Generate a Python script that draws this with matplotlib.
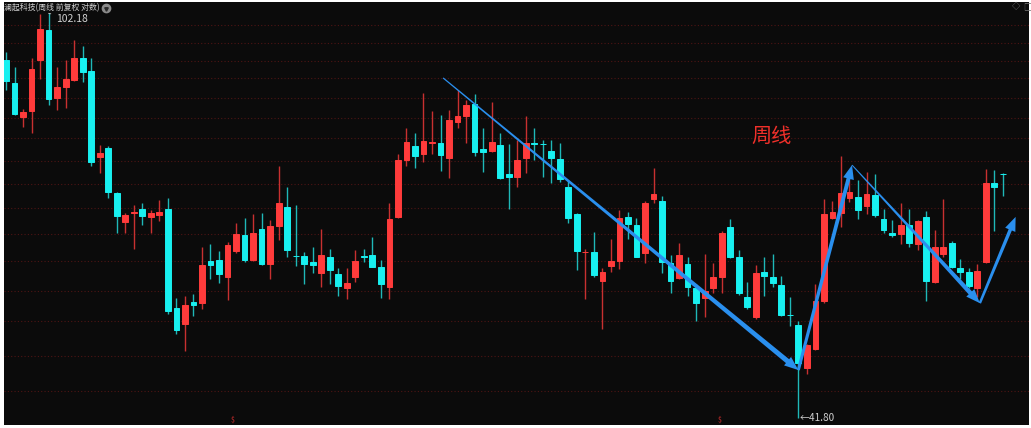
import numpy as np
import matplotlib
matplotlib.use("Agg")
import matplotlib.pyplot as plt
from matplotlib.patches import Polygon
from matplotlib.transforms import IdentityTransform

plt.rcParams['font.family'] = ['Noto Sans CJK SC', 'DejaVu Sans']

# weekly OHLC (log price axis)
opens = [92.17, 87.67, 81.33, 82.36, 92.17, 98.48, 84.70, 86.90, 88.19, 92.64,
         89.96, 74.41, 75.96, 68.78, 64.52, 65.81, 66.30, 65.24, 65.52, 66.30,
         53.30, 51.45, 54.00, 53.88, 59.16, 59.29, 57.15, 60.53, 62.62, 59.29,
         63.45, 58.76, 63.91, 66.69, 59.85, 59.82, 59.07, 57.66, 59.65, 57.45,
         55.78, 57.15, 59.87, 59.96, 58.43, 55.90, 65.24, 73.97, 76.25, 74.86,
         76.70, 76.80, 74.30, 80.44, 81.51, 83.64, 75.69, 75.45, 76.41, 71.68,
         71.25, 74.20, 76.72, 76.55, 75.36, 74.09, 69.61, 65.58, 60.30, 60.32,
         56.64, 58.52, 59.20, 65.24, 64.06, 60.27, 67.78, 67.53, 58.94, 57.02,
         58.76, 55.70, 54.49, 55.78, 57.07, 63.81, 59.73, 54.61, 52.24, 57.71,
         57.07, 56.11, 52.55, 51.34, 46.70, 48.70, 54.16, 65.01, 65.72, 67.94,
         68.18, 66.79, 68.43, 64.86, 62.98, 62.80, 64.06, 61.39, 65.24, 56.52,
         60.05, 61.61, 58.30, 57.78, 55.70, 58.99, 70.31, 71.70]
highs = [93.88, 90.82, 82.78, 92.52, 102.03, 102.18, 90.82, 92.17, 96.33, 95.07,
         92.52, 76.41, 76.25, 68.90, 65.81, 66.94, 67.19, 66.20, 67.68, 67.94,
         54.49, 54.80, 54.97, 60.98, 61.39, 60.53, 61.74, 64.29, 65.09, 65.62,
         65.81, 64.76, 72.96, 69.70, 66.94, 60.32, 61.07, 63.45, 60.71, 58.22,
         58.22, 60.62, 60.75, 62.34, 59.29, 67.19, 74.91, 79.28, 78.52, 85.76,
         82.36, 81.59, 82.54, 86.27, 84.38, 85.51, 79.28, 84.07, 78.41, 76.58,
         77.26, 81.46, 79.28, 77.26, 77.26, 76.80, 70.73, 65.70, 60.71, 63.11,
         58.22, 62.07, 66.20, 65.96, 65.01, 67.53, 72.58, 68.28, 59.96, 61.61,
         59.65, 56.23, 60.09, 58.94, 63.25, 64.86, 60.62, 56.52, 58.64, 59.65,
         60.09, 57.27, 54.61, 51.86, 49.30, 56.23, 67.78, 67.53, 74.58, 70.73,
         70.73, 71.94, 71.68, 66.30, 64.76, 67.19, 66.30, 64.80, 66.10, 63.35,
         67.83, 61.87, 59.38, 58.22, 58.76, 72.47, 72.31, 71.88]
lows = [86.27, 81.64, 79.46, 78.52, 88.39, 83.46, 82.54, 82.85, 88.06, 87.86,
        72.96, 71.79, 67.93, 62.98, 62.98, 60.71, 64.06, 62.98, 64.66, 52.60,
        50.37, 48.55, 52.40, 53.22, 56.90, 56.40, 54.28, 60.18, 59.07, 59.20,
        58.64, 56.82, 61.97, 59.73, 58.52, 56.20, 57.58, 55.82, 56.23, 54.80,
        54.44, 56.52, 59.07, 58.35, 54.49, 54.36, 65.10, 72.96, 72.68, 73.65,
        74.86, 72.20, 71.00, 79.28, 76.70, 74.58, 72.04, 75.30, 70.89, 66.30,
        69.70, 71.79, 73.92, 71.25, 70.22, 70.47, 64.29, 58.00, 54.36, 57.15,
        50.89, 57.78, 58.13, 62.07, 59.65, 58.94, 67.19, 57.58, 55.16, 56.82,
        54.77, 51.86, 52.32, 55.16, 55.16, 59.52, 54.88, 53.22, 52.10, 54.77,
        55.82, 52.40, 51.26, 41.80, 46.11, 48.60, 53.96, 64.86, 63.73, 67.43,
        64.86, 65.62, 65.24, 62.98, 62.43, 61.39, 60.98, 60.62, 54.19, 56.40,
        59.73, 58.22, 56.82, 55.70, 54.68, 58.90, 63.25, 68.28]
closes = [88.00, 81.77, 82.23, 90.30, 98.63, 84.51, 86.90, 88.33, 92.64, 89.83,
          73.65, 75.12, 68.93, 65.38, 65.52, 65.90, 65.38, 65.81, 65.86, 52.98,
          50.81, 53.69, 53.65, 58.59, 58.59, 57.45, 61.29, 62.76, 59.29, 62.98,
          58.76, 63.91, 67.19, 60.62, 59.80, 58.76, 58.64, 59.96, 58.00, 55.99,
          56.32, 59.16, 59.73, 58.43, 56.23, 64.86, 73.92, 76.87, 74.58, 77.09,
          76.87, 74.75, 80.74, 81.46, 83.46, 75.19, 75.19, 76.87, 71.00, 71.25,
          73.92, 76.70, 76.65, 76.50, 74.30, 70.84, 65.01, 60.53, 60.39, 57.36,
          57.71, 59.16, 65.01, 64.20, 59.73, 67.19, 68.58, 59.07, 56.64, 59.96,
          55.90, 53.88, 55.40, 57.07, 62.98, 59.65, 55.09, 53.49, 57.58, 57.24,
          56.32, 52.52, 52.48, 47.21, 49.16, 54.19, 65.58, 65.86, 68.78, 68.84,
          66.20, 68.54, 65.48, 63.35, 62.66, 64.06, 61.61, 64.66, 56.61, 60.98,
          60.98, 58.43, 57.78, 55.99, 57.87, 70.22, 69.61, 71.60]

grid_levels = [99.6, 95.8, 92.0, 88.5, 84.7, 81.1, 77.6, 73.8,
               70.1, 66.5, 62.8, 59.1, 55.4, 51.8, 48.0, 44.4]

# hand-drawn trend arrows: (x index, price) start -> end
trend_arrows = [((51.3, 88.6), (93.0, 46.5), 1.2, 5.0),
                ((93.0, 46.5), (99.3, 73.1), 3.0, 4.0),
                ((99.3, 73.1), (114.3, 53.9), 1.0, 4.5),
                ((114.3, 53.9), (118.5, 65.2), 2.5, 3.5)]

UP = '#ff3b3b'
DOWN = '#18f0f0'
UP_WICK = '#c83030'
DOWN_WICK = '#1fb8b8'
BG = '#0b0b0b'
ARROW = '#2a8fee'

W, H = 1031, 428
fig = plt.figure(figsize=(W / 100, H / 100), dpi=100, facecolor='white')
ax = fig.add_axes([4 / W, 3 / H, 1025 / W, 423 / H])
ax.set_facecolor(BG)
for s in ax.spines.values():
    s.set_visible(False)
ax.set_yscale('log')
ax.set_xlim(-0.235, 120.07)
ax.set_ylim(41.19, 104.76)
ax.set_xticks([])
ax.set_yticks([])
ax.minorticks_off()

for g in grid_levels:
    ax.axhline(g, color='#4e1414', lw=0.8, ls=(0, (1, 2)), zorder=0)

x = np.arange(len(opens))
o = np.array(opens)
c = np.array(closes)
up = c >= o
body_col = np.where(up, UP, DOWN)
wick_col = np.where(up, UP_WICK, DOWN_WICK)

ax.vlines(x, lows, highs, colors=wick_col, lw=1, zorder=2)
ax.bar(x, np.abs(c - o), bottom=np.minimum(o, c), width=0.68,
       color=body_col, edgecolor=body_col, linewidth=0.7, zorder=3)


def tapered_arrow(p0, p1, w0, w1, head_len=14, head_w=11):
    a = ax.transData.transform(p0)
    b = ax.transData.transform(p1)
    d = b - a
    u = d / np.hypot(*d)
    n = np.array([-u[1], u[0]])
    base = b - u * head_len
    pts = [a + n * w0 / 2, base + n * w1 / 2, base + n * head_w / 2, b,
           base - n * head_w / 2, base - n * w1 / 2, a - n * w0 / 2]
    ax.add_patch(Polygon(pts, closed=True, transform=IdentityTransform(),
                         facecolor=ARROW, edgecolor='none', zorder=5))


for p0, p1, w0, w1 in trend_arrows:
    tapered_arrow(p0, p1, w0, w1)

# labels
ax.annotate('102.18', xy=(5, 102.18), xytext=(5.9, 100.9), color='#d0d0d0',
            fontsize=7.5, va='center', ha='left',
            arrowprops=dict(arrowstyle='-', color='#d0d0d0', lw=0.6))
ax.text(93.1, 41.85, '←41.80', color='#d0d0d0', fontsize=7.2,
        va='center', ha='left')
ax.text(89.8, 77.8, '周线', color='#f0302a', fontsize=14.5,
        va='center', ha='center')
for xi in [26.6, 83.8]:
    ax.text(xi, 41.7, '$', color='#e03030', fontsize=5, va='center', ha='center')

fig.text(4 / W, 1 - 8 / H, '澜起科技(周线 前复权 对数)', color='#d0d0d0',
         fontsize=5.7, va='center', ha='left')
fig.lines.append(plt.Line2D([106 / W], [1 - 8 / H], marker='o', ms=6,
                            color='#8a8a8a', transform=fig.transFigure))
fig.lines.append(plt.Line2D([106 / W], [1 - 8.5 / H], marker='v', ms=2.5,
                            color='#2a2a2a', transform=fig.transFigure))
fig.text(1016 / W, 1 - 7 / H, '◇', color='#777777', fontsize=6, va='center', ha='center')
fig.text(1027 / W, 1 - 7 / H, '□', color='#777777', fontsize=6, va='center', ha='center')

fig.savefig('out.png', dpi=100, facecolor='white')
